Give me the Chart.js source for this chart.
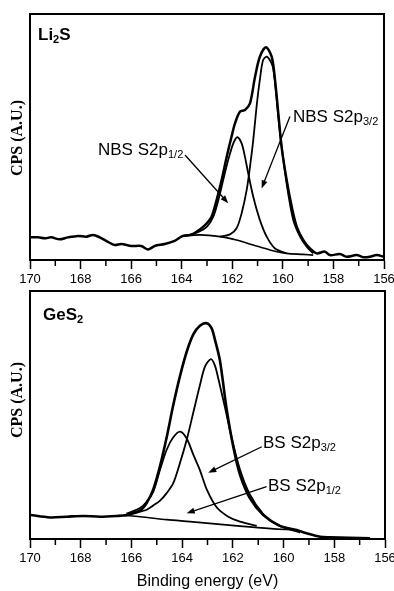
<!DOCTYPE html>
<html>
<head>
<meta charset="utf-8">
<script src="https://cdn.jsdelivr.net/npm/chart.js@4.4.1/dist/chart.umd.min.js"></script>
<style>
  body { margin: 0; background: #fff; }
  #wrap { position: relative; width: 394px; height: 591px; font-family: "Liberation Sans", Arial, sans-serif; color: #000; }
  .box { position: absolute; left: 0; width: 394px; }
  .lbl { position: absolute; font-size: 17px; line-height: 1; white-space: nowrap; }
  .lbl sub { font-size: 0.65em; vertical-align: -0.3em; line-height: 0; }
  .ttl { font-weight: bold; }
  .ylab { position: absolute; font-family: "Liberation Serif", "Times New Roman", serif; font-weight: bold; font-size: 16px; line-height: 1; white-space: nowrap; transform: translate(-50%, -50%) rotate(-90deg); }
</style>
</head>
<body>
<div id="wrap">
  <div class="box" style="top:0;height:290px"><canvas id="liChart"></canvas></div>
  <div class="box" style="top:290px;height:301px"><canvas id="geChart"></canvas></div>

  <div class="lbl ttl" style="left:38px;top:25.5px">Li<sub>2</sub>S</div>
  <div class="lbl" style="left:98px;top:141px">NBS S2p<sub>1/2</sub></div>
  <div class="lbl" style="left:293px;top:108px">NBS S2p<sub>3/2</sub></div>
  <div class="ylab" style="left:16.5px;top:138px">CPS (A.U.)</div>

  <div class="lbl ttl" style="left:43px;top:305.5px">GeS<sub>2</sub></div>
  <div class="lbl" style="left:263px;top:434px">BS S2p<sub>3/2</sub></div>
  <div class="lbl" style="left:268px;top:477px">BS S2p<sub>1/2</sub></div>
  <div class="ylab" style="left:16.5px;top:400px">CPS (A.U.)</div>
</div>

<script>
// 軸目盛
const xTicks = [170, 168, 166, 164, 162, 160, 158, 156];
const minorTicks = [169, 167, 165, 163, 161, 159, 157];

// Li2S: [結合エネルギー(eV), 強度]
const liEnvelope = [
  [170.0, 9.2], [169.68, 9.2], [169.42, 8.8], [169.16, 9.2], [168.83, 8.4], [168.5, 9.2],
  [168.1, 9.8], [167.77, 9.5], [167.51, 10.2], [167.24, 9.2], [166.92, 7.4], [166.65, 6.1],
  [166.39, 6.5], [165.99, 5.7], [165.6, 5.7], [165.33, 4.3], [165.07, 5.7], [164.67, 6.5],
  [164.28, 7.8], [163.95, 9.8], [163.62, 10.2], [163.41, 11.5], [163.08, 14.2], [162.82, 17.6],
  [162.62, 24.4], [162.42, 32.5], [162.22, 42], [162.03, 50.1], [161.89, 55.6], [161.7, 60.3],
  [161.5, 61], [161.3, 63.7], [161.1, 74.5], [160.91, 82.6], [160.67, 86.5], [160.44, 82.6],
  [160.31, 73.2], [160.18, 59.6], [160.05, 46], [159.85, 32.5], [159.65, 21.7], [159.45, 13.5],
  [159.19, 8.1], [158.93, 4.7], [158.66, 2.7], [158.34, 3.4], [158.14, 2.0], [157.74, 2.4],
  [157.48, 1.3], [157.08, 2.0], [156.82, 1.1], [156.56, 1.3], [156.29, 2.0], [156.0, 1.3]
];
const liBackground = [
  [164.07, 9.5], [163.28, 10.2], [162.49, 9.5], [161.83, 8.1], [161.17, 6.1],
  [160.51, 4.1], [159.85, 2.7], [159.19, 2.3], [158.8, 2.0]
];
const liNbs12 = [
  [163.8, 10.0], [163.41, 11.1], [163.01, 13.5], [162.75, 17.6], [162.55, 24.4], [162.36, 32.5],
  [162.16, 40.7], [161.96, 47.4], [161.8, 49.9], [161.63, 47.4], [161.5, 42], [161.37, 35.2],
  [161.17, 25.7], [160.91, 16.3], [160.64, 9.5], [160.31, 4.7], [159.85, 2.7]
];
const liNbs32 = [
  [162.49, 9.5], [162.09, 10.4], [161.83, 12.9], [161.63, 19], [161.43, 28.5], [161.3, 37.9],
  [161.17, 48.8], [161.04, 62.3], [160.91, 73.2], [160.78, 81.3], [160.62, 82.6], [160.4, 78.6],
  [160.27, 67.8], [160.14, 54.2], [159.98, 40.7], [159.79, 27.1], [159.59, 16.3], [159.32, 9.5],
  [159.06, 5.4], [158.8, 2.7]
];
// 矢印 [x1, y1, x2, y2]
const liArrows = [[163.87, 42.7, 162.16, 23.1], [159.72, 58.3, 160.84, 29.1]];

// GeS2
const geEnvelope = [
  [170.0, 9.7], [169.21, 8.7], [168.55, 9.0], [167.9, 9.3], [167.24, 9.0], [166.58, 9.3],
  [166.19, 9.7], [165.66, 11.5], [165.4, 14.5], [165.14, 20], [164.87, 29.5], [164.61, 41],
  [164.35, 54], [164.09, 65.5], [163.82, 75.5], [163.56, 82.5], [163.3, 86], [163.03, 87],
  [162.84, 85], [162.71, 80.5], [162.51, 72], [162.24, 52], [161.98, 37], [161.72, 26],
  [161.33, 16.5], [160.8, 9.7], [160.14, 5.3], [159.48, 3.6], [159.09, 2.3], [158.56, 0.9],
  [158.17, 0.7], [157.4, 0.5], [156.59, 0.3]
];
const geBackground = [
  [166.3, 9.5], [165.66, 9.0], [164.61, 7.8], [163.69, 7.0], [161.72, 5.2], [160.5, 4.2], [159.6, 3.7]
];
const geBs32 = [
  [166.3, 9.5], [165.9, 10.3], [165.4, 11.8], [165.14, 13.5], [164.87, 15.5], [164.61, 18.5],
  [164.35, 22.5], [164.09, 30.5], [163.82, 40], [163.56, 51], [163.3, 62], [163.1, 69.5],
  [162.87, 72.5], [162.71, 70], [162.57, 64.5], [162.31, 53], [162.05, 41], [161.72, 28],
  [161.33, 18], [160.8, 10], [160.3, 6], [159.88, 4.3], [159.35, 2.6]
];
const geBs12 = [
  [166.2, 10.2], [165.66, 12.5], [165.4, 15], [165.14, 19], [164.87, 28], [164.61, 36],
  [164.35, 41], [164.08, 43.3], [163.82, 40.5], [163.56, 34], [163.3, 27.8], [163.03, 20],
  [162.64, 12.8], [162.18, 9], [161.72, 7], [161.06, 5.3]
];
const geArrows = [[160.86, 37.2, 162.97, 26.7], [160.67, 21.1, 163.82, 10.4]];

const pts = a => a.map(([x, y]) => ({ x, y }));
const line = (data, w) => ({ data: pts(data), showLine: true, borderColor: '#000', borderWidth: w, tension: 0.3, pointRadius: 0, fill: false });

// 枠・副目盛・矢印
const framePlugin = {
  id: 'frame',
  afterDraw(chart, args, opts) {
    const { ctx, chartArea: a, scales: { x, y } } = chart;
    ctx.save();
    ctx.strokeStyle = '#000';
    ctx.fillStyle = '#000';
    ctx.lineWidth = 2;
    ctx.strokeRect(a.left, a.top, a.right - a.left, a.bottom - a.top);
    ctx.lineWidth = 1.5;
    minorTicks.forEach(v => {
      const px = x.getPixelForValue(v);
      ctx.beginPath(); ctx.moveTo(px, a.bottom); ctx.lineTo(px, a.bottom + 6); ctx.stroke();
    });
    (opts.arrows || []).forEach(([x1, y1, x2, y2]) => {
      const sx = x.getPixelForValue(x1), sy = y.getPixelForValue(y1);
      const ex = x.getPixelForValue(x2), ey = y.getPixelForValue(y2);
      const ang = Math.atan2(ey - sy, ex - sx);
      ctx.lineWidth = 1.3;
      ctx.beginPath(); ctx.moveTo(sx, sy); ctx.lineTo(ex - 6 * Math.cos(ang), ey - 6 * Math.sin(ang)); ctx.stroke();
      ctx.beginPath();
      ctx.moveTo(ex, ey);
      ctx.lineTo(ex - 8 * Math.cos(ang) + 3 * Math.sin(ang), ey - 8 * Math.sin(ang) - 3 * Math.cos(ang));
      ctx.lineTo(ex - 8 * Math.cos(ang) - 3 * Math.sin(ang), ey - 8 * Math.sin(ang) + 3 * Math.cos(ang));
      ctx.closePath(); ctx.fill();
    });
    ctx.restore();
  }
};

function makeChart(id, datasets, arrows, pad, xH, showTitle) {
  return new Chart(document.getElementById(id), {
    type: 'scatter',
    data: { datasets },
    options: {
      responsive: true, maintainAspectRatio: false, animation: false,
      layout: { padding: pad },
      plugins: { legend: { display: false }, tooltip: { enabled: false }, frame: { arrows } },
      scales: {
        x: {
          type: 'linear', min: 156, max: 170, reverse: true,
          afterBuildTicks: s => { s.ticks = xTicks.map(v => ({ value: v })); },
          afterFit: s => { s.height = xH; s.paddingLeft = 0; s.paddingRight = 0; },
          grid: { drawOnChartArea: false, drawTicks: true, tickLength: 9, tickWidth: 1.5, tickColor: '#000' },
          border: { display: true, color: '#000', width: 2 },
          ticks: { color: '#000', padding: 3, maxRotation: 0, autoSkip: false, font: { family: 'Liberation Sans', size: 13 } },
          title: { display: showTitle, text: 'Binding energy (eV)', color: '#000', padding: 0, font: { family: 'Liberation Sans', size: 16 } }
        },
        y: {
          min: 0, max: 100,
          afterFit: s => { s.width = 30; },
          ticks: { display: false },
          grid: { display: false },
          border: { display: true, color: '#000', width: 2 }
        }
      }
    },
    plugins: [framePlugin]
  });
}

makeChart('liChart', [
  line(liBackground, 1.6), line(liNbs12, 1.8), line(liNbs32, 1.8), line(liEnvelope, 2.5)
], liArrows, { top: 14, right: 10, left: 0, bottom: 0 }, 30, false);

makeChart('geChart', [
  line(geBackground, 1.6), line(geBs12, 1.8), line(geBs32, 1.8), line(geEnvelope, 2.6)
], geArrows, { top: 1, right: 9, left: 0, bottom: 0 }, 52, true);
</script>
</body>
</html>
